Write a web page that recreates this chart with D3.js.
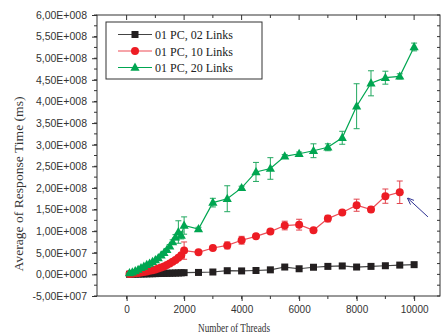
<!DOCTYPE html>
<html>
<head>
<meta charset="utf-8">
<script src="https://cdn.jsdelivr.net/npm/d3@7"></script>
<style>
  body { margin: 0; background: #fff; }
  svg { display: block; }
</style>
</head>
<body>
<div id="chart"></div>
<script>
// thread counts (x) -- dense up to 2000, then every 500
const threads = [100, 200, 300, 400, 500, 600, 700, 800, 900, 1000,
  1100, 1200, 1300, 1400, 1500, 1600, 1700, 1800, 1900, 2000,
  2500, 3000, 3500, 4000, 4500, 5000, 5500, 6000, 6500, 7000,
  7500, 8000, 8500, 9000, 9500, 10000];

// 01 PC, 02 Links
const links02 = [0.3e6, 0.5e6, 0.6e6, 0.8e6, 1.0e6, 1.1e6, 1.3e6, 1.5e6, 1.6e6, 1.8e6,
  2.0e6, 2.2e6, 2.3e6, 2.5e6, 2.7e6, 2.9e6, 3.1e6, 3.3e6, 3.6e6, 4.0e6,
  4.5e6, 5.5e6, 8.5e6, 8.0e6, 9.0e6, 1.05e7, 1.7e7, 1.3e7, 1.65e7, 1.85e7,
  1.95e7, 1.7e7, 1.85e7, 2.0e7, 2.15e7, 2.25e7];
const links02Err = [0, 0, 0, 0, 0, 0, 0, 0, 0, 0,
  0, 0, 0, 0, 0, 0, 0, 0, 0, 0,
  0, 0, 1e6, 1e6, 1e6, 1e6, 1e6, 1e6, 1e6, 1e6,
  1e6, 1e6, 1e6, 1e6, 1e6, 1e6];

// 01 PC, 10 Links (no run at 10000)
const links10 = [0.8e6, 1.5e6, 2.4e6, 3.3e6, 4.5e6, 5.5e6, 6.8e6, 8.2e6, 9.8e6, 11.5e6,
  13.5e6, 15.8e6, 18.5e6, 21.5e6, 25e6, 29e6, 33.5e6, 38.5e6, 44e6, 55e6,
  51e6, 61e6, 67e6, 79e6, 88e6, 99e6, 113e6, 115e6, 102e6, 129e6,
  143e6, 160e6, 150e6, 181e6, 190e6];
const links10Err = [0.5e6, 0.5e6, 0.5e6, 0.5e6, 0.5e6, 0.5e6, 0.5e6, 1e6, 1e6, 1e6,
  1e6, 1e6, 1.5e6, 1.5e6, 2e6, 2e6, 3e6, 4e6, 5e6, 2.0e7,
  3e6, 3e6, 8e6, 9e6, 3e6, 3e6, 1.0e7, 1.25e7, 3e6, 7.5e6,
  4e6, 1.4e7, 6e6, 1.65e7, 2.6e7];

// 01 PC, 20 Links
const links20 = [3e6, 5e6, 8e6, 11e6, 15e6, 18e6, 22e6, 25e6, 29e6, 33e6,
  38e6, 44e6, 50e6, 57e6, 65e6, 75e6, 86e6, 98e6, 90e6, 113e6,
  105e6, 166e6, 175e6, 200e6, 237e6, 245e6, 273e6, 279e6, 286e6, 294e6,
  316e6, 389e6, 442e6, 455e6, 458e6, 526e6];
const links20Err = [0.5e6, 0.5e6, 0.5e6, 0.5e6, 1e6, 1e6, 1e6, 1e6, 1.5e6, 1.5e6,
  2e6, 2e6, 3e6, 3e6, 4e6, 5e6, 6e6, 2.6e7, 8e6, 2.0e7,
  4e6, 1e7, 3e7, 4e6, 2.2e7, 2.5e7, 4e6, 4e6, 1.6e7, 8e6,
  1.5e7, 5.2e7, 2.9e7, 1.5e7, 6e6, 9e6];

const seriesNames = ['01 PC, 02 Links', '01 PC, 10 Links', '01 PC, 20 Links'];
const yTicks = [-5e7, 0, 5e7, 1e8, 1.5e8, 2e8, 2.5e8, 3e8, 3.5e8, 4e8, 4.5e8, 5e8, 5.5e8, 6e8];
const xTicks = [0, 2000, 4000, 6000, 8000, 10000];

const W = 441, H = 336;
const margin = { top: 15, right: 1, bottom: 40, left: 97 };

const svg = d3.select('#chart').append('svg')
  .attr('width', W)
  .attr('height', H);

const x = d3.scaleLinear().domain([-1030, 10900]).range([margin.left, W - margin.right]);
const y = d3.scaleLinear().domain([-5e7, 6e8]).range([H - margin.bottom, margin.top]);

// tick label like 6,00E+008
function sci(v) {
  if (v === 0) return '0,00E+000';
  const e = Math.floor(Math.log10(Math.abs(v)));
  const m = (v / Math.pow(10, e)).toFixed(2).replace('.', ',');
  return m + 'E' + (e < 0 ? '-' : '+') + String(Math.abs(e)).padStart(3, '0');
}

const axisColor = '#333';
const minorY = d3.range(-5e7, 6e8 + 1, 2.5e7);
const minorX = d3.range(0, 10001, 1000);

// left axis
svg.append('g')
  .attr('transform', `translate(${margin.left},0)`)
  .call(d3.axisLeft(y).tickValues(yTicks).tickFormat(sci).tickSize(5).tickSizeOuter(0))
  .call(g => g.select('.domain').remove())
  .call(g => g.selectAll('text').attr('font-family', 'Liberation Sans, Arial, sans-serif')
    .attr('font-size', 10.5).attr('fill', '#333').attr('x', -10))
  .call(g => g.selectAll('line').attr('stroke', axisColor));
svg.append('g').selectAll('line').data(minorY).join('line')
  .attr('x1', margin.left - 3).attr('x2', margin.left)
  .attr('y1', d => y(d)).attr('y2', d => y(d))
  .attr('stroke', axisColor);

// bottom axis
svg.append('g')
  .attr('transform', `translate(0,${H - margin.bottom})`)
  .call(d3.axisBottom(x).tickValues(xTicks).tickFormat(d3.format('d')).tickSize(5).tickSizeOuter(0))
  .call(g => g.select('.domain').remove())
  .call(g => g.selectAll('text').attr('font-family', 'Liberation Sans, Arial, sans-serif')
    .attr('font-size', 10).attr('fill', '#333').attr('y', 10))
  .call(g => g.selectAll('line').attr('stroke', axisColor));
svg.append('g').selectAll('line').data(minorX).join('line')
  .attr('x1', d => x(d)).attr('x2', d => x(d))
  .attr('y1', H - margin.bottom).attr('y2', H - margin.bottom + 3)
  .attr('stroke', axisColor);

// top & right inner ticks
svg.append('g').selectAll('line').data(minorX).join('line')
  .attr('x1', d => x(d)).attr('x2', d => x(d))
  .attr('y1', margin.top).attr('y2', d => margin.top + (d % 2000 === 0 ? 5 : 3))
  .attr('stroke', axisColor);
svg.append('g').selectAll('line').data(minorY).join('line')
  .attr('x1', W - margin.right).attr('x2', W - margin.right - 3)
  .attr('y1', d => y(d)).attr('y2', d => y(d))
  .attr('stroke', axisColor);

// frame
svg.append('rect')
  .attr('x', margin.left).attr('y', margin.top)
  .attr('width', W - margin.right - margin.left)
  .attr('height', H - margin.bottom - margin.top)
  .attr('fill', 'none').attr('stroke', axisColor).attr('stroke-width', 1);

// axis titles
svg.append('text')
  .attr('x', 234).attr('y', 332)
  .attr('text-anchor', 'middle')
  .attr('font-family', 'Liberation Serif, Times New Roman, serif')
  .attr('font-size', 11.5).attr('fill', '#333')
  .attr('textLength', 72).attr('lengthAdjust', 'spacingAndGlyphs')
  .text('Number of Threads');
svg.append('text')
  .attr('transform', 'translate(23,184) rotate(-90)')
  .attr('text-anchor', 'middle')
  .attr('font-family', 'Liberation Serif, Times New Roman, serif')
  .attr('font-size', 13).attr('fill', '#333')
  .attr('textLength', 175).attr('lengthAdjust', 'spacingAndGlyphs')
  .text('Average of Response Time (ms)');

// series
const series = [
  { name: seriesNames[0], vals: links02, err: links02Err, line: '#444', mark: '#231f20', errc: '#444', shape: 'square' },
  { name: seriesNames[1], vals: links10, err: links10Err, line: '#ee4b55', mark: '#ed1c24', errc: '#e2434c', shape: 'circle' },
  { name: seriesNames[2], vals: links20, err: links20Err, line: '#00a651', mark: '#00a651', errc: '#22a860', shape: 'triangle' }
];

function drawMarker(sel, shape, color) {
  if (shape === 'square') {
    sel.append('rect').attr('x', -3.5).attr('y', -3.5).attr('width', 7).attr('height', 7).attr('fill', color);
  } else if (shape === 'circle') {
    sel.append('circle').attr('r', 4).attr('fill', color);
  } else {
    sel.append('path').attr('d', 'M0,-5L4.6,3.2L-4.6,3.2Z').attr('fill', color);
  }
}

series.forEach(s => {
  const pts = s.vals.map((v, i) => ({ t: threads[i], v: v, e: s.err[i] }));
  const g = svg.append('g');
  g.append('path')
    .datum(pts)
    .attr('d', d3.line().x(d => x(d.t)).y(d => y(d.v)))
    .attr('fill', 'none').attr('stroke', s.line).attr('stroke-width', 1.2);

  const eb = g.selectAll('.err').data(pts.filter(d => d.e > 0)).join('g')
    .attr('stroke', s.errc).attr('stroke-width', 1);
  eb.append('line')
    .attr('x1', d => x(d.t)).attr('x2', d => x(d.t))
    .attr('y1', d => y(d.v - d.e)).attr('y2', d => y(d.v + d.e));
  eb.append('line')
    .attr('x1', d => x(d.t) - 3).attr('x2', d => x(d.t) + 3)
    .attr('y1', d => y(d.v + d.e)).attr('y2', d => y(d.v + d.e));
  eb.append('line')
    .attr('x1', d => x(d.t) - 3).attr('x2', d => x(d.t) + 3)
    .attr('y1', d => y(d.v - d.e)).attr('y2', d => y(d.v - d.e));

  g.selectAll('.mk').data(pts).join('g')
    .attr('transform', d => `translate(${x(d.t)},${y(d.v)})`)
    .each(function () { drawMarker(d3.select(this), s.shape, s.mark); });
});

// arrow pointing at the 10 Links run at 9500
const defs = svg.append('defs');
defs.append('marker')
  .attr('id', 'head').attr('viewBox', '0 0 10 10')
  .attr('refX', 9).attr('refY', 5)
  .attr('markerWidth', 7).attr('markerHeight', 7)
  .attr('orient', 'auto')
  .append('path').attr('d', 'M0,1L10,5L0,9').attr('fill', 'none').attr('stroke', '#2e3192').attr('stroke-width', 1.3);
svg.append('line')
  .attr('x1', x(10480)).attr('y1', y(1.33e8))
  .attr('x2', x(9780)).attr('y2', y(1.76e8))
  .attr('stroke', '#2e3192').attr('stroke-width', 1)
  .attr('marker-end', 'url(#head)');

// legend
const leg = svg.append('g').attr('transform', 'translate(106,22)');
leg.append('rect').attr('width', 156).attr('height', 57)
  .attr('fill', '#fff').attr('stroke', '#333').attr('stroke-width', 1);
series.forEach((s, i) => {
  const row = leg.append('g').attr('transform', `translate(0,${12.5 + i * 16.5})`);
  row.append('line').attr('x1', 12).attr('x2', 46).attr('stroke', s.line).attr('stroke-width', 1.2);
  const m = row.append('g').attr('transform', 'translate(29,0)');
  drawMarker(m, s.shape, s.mark);
  row.append('text').attr('x', 49).attr('y', 4.5)
    .attr('font-family', 'Liberation Serif, Times New Roman, serif')
    .attr('font-size', 12).attr('fill', '#222')
    .text(s.name);
});
</script>
</body>
</html>
